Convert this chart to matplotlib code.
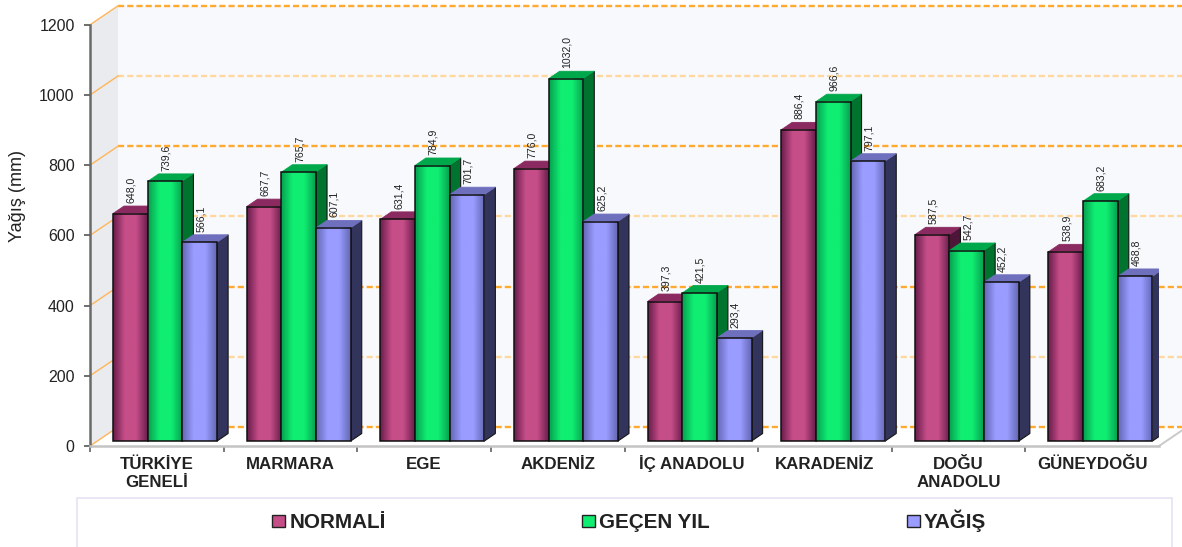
import numpy as np
import matplotlib
matplotlib.use("Agg")
import matplotlib.pyplot as plt
from matplotlib.colors import LinearSegmentedColormap
from matplotlib.patches import Patch, Rectangle
from matplotlib.transforms import ScaledTranslation

plt.rcParams['font.family'] = ['Liberation Sans', 'DejaVu Sans']

categories = ['TÜRKİYE\nGENELİ', 'MARMARA', 'EGE', 'AKDENİZ', 'İÇ ANADOLU',
              'KARADENİZ', 'DOĞU\nANADOLU', 'GÜNEYDOĞU']
normali = [648.0, 667.7, 631.4, 776.0, 397.3, 886.4, 587.5, 538.9]
gecen_yil = [739.6, 765.7, 784.9, 1032.0, 421.5, 966.6, 542.7, 683.2]
yagis = [566.1, 607.1, 701.7, 625.2, 293.4, 797.1, 452.2, 468.8]
series_names = ['NORMALİ', 'GEÇEN YIL', 'YAĞIŞ']
yticks = [0, 200, 400, 600, 800, 1000, 1200]
gridlines = [0, 200, 400, 600, 800, 1000, 1200]

W, H = 1182, 547
fig = plt.figure(figsize=(W / 100, H / 100), dpi=100, facecolor='white')
ax = fig.add_axes([90 / W, 1 - 446 / H, 1069 / W, 421.2 / H])
ax.set_facecolor('none')
ax.set_xlim(-0.5, 7.5)
ax.set_ylim(0, 1200)

# pixel -> data unit helpers
PX = 8 / 1069
PY = 1200 / 421.2
wall_dx, wall_dy = 28 * PX, 19 * PY
bar_dx, bar_dy = 11 * PX, 7.5 * PY
bar_w = 34.7 * PX
base = 5 * PY
group_off = -43.8 * PX

x0, x1 = -0.5, 7.5
xr = x1 + 40 * PX

# walls and floor
ax.fill([x0 + wall_dx, xr, xr, x0 + wall_dx],
        [wall_dy, wall_dy, 1200 + wall_dy, 1200 + wall_dy],
        color='#f8f9fc', lw=0, clip_on=False, zorder=0)
ax.fill([x0, x0 + wall_dx, x0 + wall_dx, x0],
        [0, wall_dy, 1200 + wall_dy, 1200],
        color='#e9ebee', lw=0, clip_on=False, zorder=0.5)
ax.fill([x0, x1, x1 + wall_dx, x0 + wall_dx],
        [0, 0, wall_dy, wall_dy],
        color='white', lw=0, clip_on=False, zorder=0.6)
ax.plot([x1, x1 + wall_dx], [0, wall_dy], color='#c9c9c9', lw=1.4,
        clip_on=False, zorder=0.7)

# gridlines
for k, g in enumerate(gridlines):
    c = '#ffa92e' if k % 2 == 0 else '#ffd8a0'
    ax.plot([x0 + wall_dx, xr], [g + wall_dy] * 2, color=c, lw=1.7,
            dashes=(2.6, 1.3), clip_on=False, zorder=1)
    ax.plot([x0, x0 + wall_dx], [g, g + wall_dy], color='#ffb55a', lw=1.0,
            clip_on=False, zorder=1)

styles = [
    dict(edge='#6a1d4d', mid='#c64e88', top='#8b2a60', side='#4d1537'),
    dict(edge='#07a050', mid='#10ee72', top='#00a84c', side='#00742f'),
    dict(edge='#6468b4', mid='#9a9cff', top='#6f70bd', side='#33345c'),
]
grad = np.linspace(0, 1, 64)[None, :]


def draw_bar(left, value, st, z):
    right = left + bar_w
    top = value + base
    ax.fill([right, right + bar_dx, right + bar_dx, right],
            [base, base + bar_dy, top + bar_dy, top],
            facecolor=st['side'], edgecolor='#151515', lw=0.8, zorder=z)
    ax.fill([left, right, right + bar_dx, left + bar_dx],
            [top, top, top + bar_dy, top + bar_dy],
            facecolor=st['top'], edgecolor=st['top'], lw=0.6, zorder=z)
    cmap = LinearSegmentedColormap.from_list(
        'b', [st['edge'], st['mid'], st['mid'], st['edge']])
    ax.imshow(grad, extent=[left, right, base, top], aspect='auto', cmap=cmap,
              origin='lower', zorder=z + 0.1, interpolation='bilinear')
    ax.add_patch(Rectangle((left, base), bar_w, value, fill=False,
                           edgecolor='#101010', lw=1.1, zorder=z + 0.2))
    ax.text(left + bar_w / 2 + 1 * PX, top + 10.5 * PY, f'{value:.1f}'.replace('.', ','),
            rotation=90, ha='center', va='bottom', fontsize=7.6, color='#222222',
            zorder=30, clip_on=False)


values = [normali, gecen_yil, yagis]
for i in range(len(categories)):
    for s, series in enumerate(values):
        draw_bar(i + group_off + s * bar_w, series[i], styles[s], 5 + i + s * 0.3)

ax.set_xlim(-0.5, 7.5)
ax.set_ylim(0, 1200)

# axes
for name in ['top', 'right']:
    ax.spines[name].set_visible(False)
ax.spines['left'].set_color('#6a6a6a')
ax.spines['left'].set_linewidth(1.8)
ax.spines['bottom'].set_color('#c4c4c4')
ax.spines['bottom'].set_linewidth(1.8)
ax.set_yticks(yticks)
ax.tick_params(axis='y', length=4, width=1.2, color='#555555', pad=7,
               labelsize=11.5, labelcolor='#222222')
ax.set_xticks(range(len(categories)))
ax.set_xticklabels(categories, fontsize=12.2, fontweight='bold', color='#222222',
                   linespacing=1.28)
ax.tick_params(axis='x', which='major', length=0, pad=8)
ax.set_xticks(np.arange(-0.5, 7.5, 1), minor=True)
ax.tick_params(axis='x', which='minor', length=4, width=1.1, color='#555555')
# the cedilla makes this label's box taller; lift it back onto the common line
lbl = ax.get_xticklabels()[4]
lbl.set_transform(lbl.get_transform() + ScaledTranslation(0, 2 / 100, fig.dpi_scale_trans))
fig.text(18 / W, 1 - 196 / H, 'Yağış (mm)', rotation=90, ha='center', va='center',
         fontsize=13, color='#222222')

# legend
fig.add_artist(Rectangle((77 / W, -0.01), 1095 / W, 1 - 498 / H + 0.01,
                         transform=fig.transFigure, facecolor='white',
                         edgecolor='#e8e2f2', lw=1.2))
handles = [Patch(facecolor=st['mid'], edgecolor='#222222', lw=1.0) for st in styles]
fs = 14.9
leg = fig.legend(handles, series_names, ncol=3, frameon=False,
                 loc='center left', bbox_to_anchor=(272 / W, 1 - 521 / H),
                 borderpad=0, borderaxespad=0, fontsize=fs,
                 handlelength=0.63, handleheight=0.55, handletextpad=0.2,
                 columnspacing=9.5, prop=dict(size=fs, weight='bold'))
for t in leg.get_texts():
    t.set_color('#222222')

fig.savefig('out.png', dpi=100)
